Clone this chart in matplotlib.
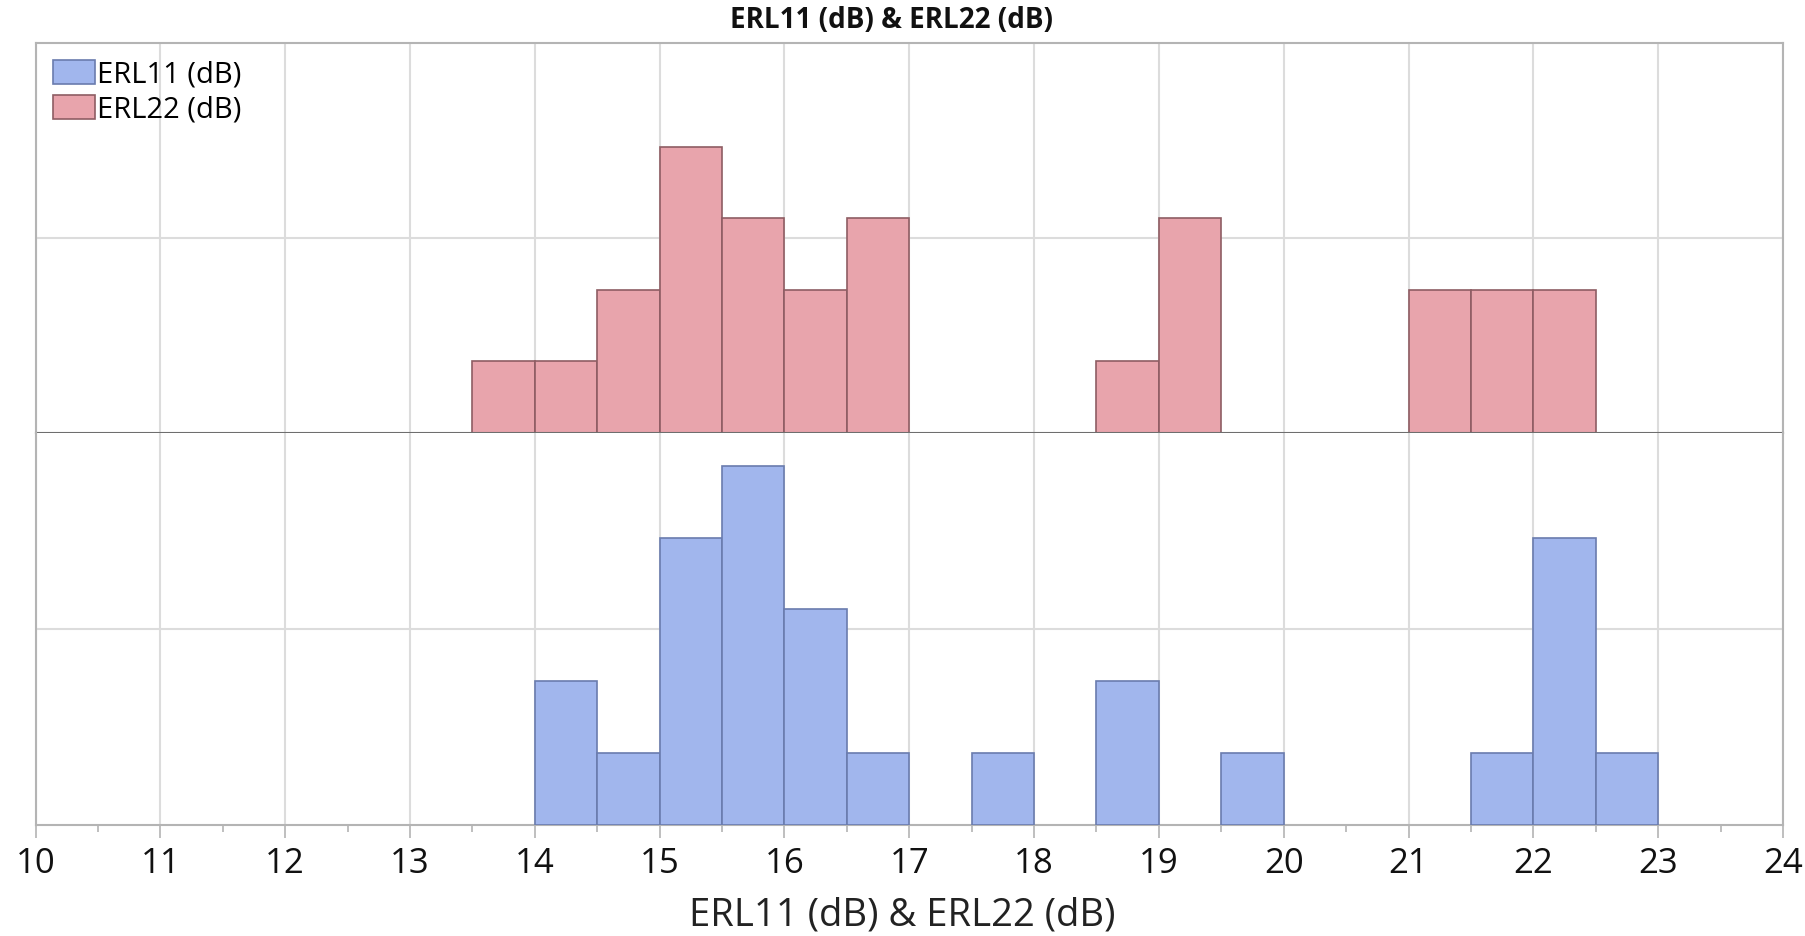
import matplotlib
matplotlib.use("Agg")
import matplotlib.pyplot as plt
from matplotlib.patches import Patch
from matplotlib.ticker import MultipleLocator

plt.rcParams['font.family'] = ['Open Sans', 'DejaVu Sans']

# histogram bins (left edges, width 0.5) and counts
bin_left = [13.5, 14.0, 14.5, 15.0, 15.5, 16.0, 16.5, 17.0, 17.5, 18.0,
            18.5, 19.0, 19.5, 20.0, 20.5, 21.0, 21.5, 22.0, 22.5]
erl11_counts = [0, 2, 1, 4, 5, 3, 1, 0, 1, 0, 2, 0, 1, 0, 0, 0, 1, 4, 1]
erl22_counts = [1, 1, 2, 4, 3, 2, 3, 0, 0, 0, 1, 3, 0, 0, 0, 2, 2, 2, 0]
bin_width = 0.5

x_ticks = [10, 11, 12, 13, 14, 15, 16, 17, 18, 19, 20, 21, 22, 23, 24]
title = "ERL11 (dB) & ERL22 (dB)"
labels = ["ERL11 (dB)", "ERL22 (dB)"]

blue_fill, blue_edge = "#a1b6ed", "#6a7cae"
red_fill, red_edge = "#e8a4ac", "#8e5d63"
frame_col = "#b4b4b4"
grid_col = "#dcdcdc"

W, H = 1805, 936
fig = plt.figure(figsize=(W / 100, H / 100), dpi=100)
left, right = 35.5 / W, 1783 / W
y_top, y_mid, y_bot = 42.7 / H, 432.7 / H, 825 / H
ax_top = fig.add_axes([left, 1 - y_mid, right - left, y_mid - y_top])
ax_bot = fig.add_axes([left, 1 - y_bot, right - left, y_bot - y_mid], sharex=ax_top)

ymax = max(max(erl11_counts), max(erl22_counts)) * 1.092

def draw(ax, counts, fc, ec):
    xs = [b for b, c in zip(bin_left, counts) if c > 0]
    hs = [c for c in counts if c > 0]
    ax.bar(xs, hs, width=bin_width, align='edge', color=fc, edgecolor=ec,
           linewidth=1.2, zorder=3)
    ax.set_ylim(0, ymax)
    ax.set_yticks([ymax / 2])
    ax.tick_params(axis='y', length=0, labelleft=False)
    ax.grid(True, color=grid_col, linewidth=1.5, zorder=0)
    for s in ax.spines.values():
        s.set_color(frame_col)
        s.set_linewidth(1.5)

draw(ax_top, erl22_counts, red_fill, red_edge)
draw(ax_bot, erl11_counts, blue_fill, blue_edge)

ax_top.set_xlim(10, 24)
ax_top.set_xticks(x_ticks)
ax_top.xaxis.set_minor_locator(MultipleLocator(0.5))
ax_top.tick_params(axis='x', which='both', length=0, labelbottom=False)
ax_top.spines['bottom'].set_color("#6e6e6e")
ax_top.spines['bottom'].set_zorder(4)
ax_bot.spines['top'].set_visible(False)

ax_bot.tick_params(axis='x', which='major', length=9, width=1.2, color=frame_col,
                   labelsize=25, pad=7, labelcolor="#111111")
ax_bot.tick_params(axis='x', which='minor', length=5, width=1.2, color=frame_col)
ax_bot.set_xlabel(title, fontsize=27.5, labelpad=11, color="#222222")
# label is centred on the figure, not on the axes
ax_bot.xaxis.label.set_x((W / 2 - 35.5) / (1783 - 35.5))

fig.text(892 / W, 1 - 20 / H, title, ha='center', va='center',
         fontsize=20, fontweight='bold', color="#111111")

handles = [Patch(facecolor=blue_fill, edgecolor=blue_edge, linewidth=1.2),
           Patch(facecolor=red_fill, edgecolor=red_edge, linewidth=1.2)]
ax_top.legend(handles, labels, loc='upper left', frameon=False, fontsize=21,
              handlelength=1.45, handleheight=0.9, handletextpad=0.05,
              labelspacing=0.2, borderaxespad=0.3, borderpad=0.3)

fig.savefig("out.png", dpi=100)
